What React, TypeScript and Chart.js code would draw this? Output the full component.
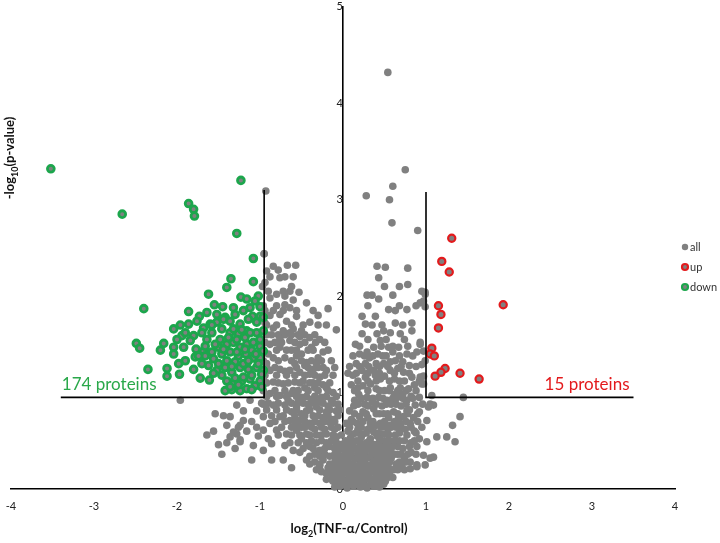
import React, { useEffect, useRef } from "react";
import { Chart, registerables } from "chart.js";

Chart.register(...registerables);

// ---------- data (log2 fold change, -log10 p) ----------
const seriesNames = ["all", "up", "down"];
const downLabel = "174 proteins";
const upLabel = "15 proteins";
const xAxisTitle = ["log", "2", "(TNF-α/Control)"];
const yAxisTitle = ["-log", "10", "(p-value)"];

const leftCut: number[][] = [[-0.95, 3.1], [-0.95, 0.95], [-3.4, 0.95]];
const rightCut: number[][] = [[1.0, 3.08], [1.0, 0.95], [3.5, 0.95]];

const upPts: number[][] = [
  [1.31, 2.6], [1.19, 2.36], [1.28, 2.25], [1.93, 1.91], [1.15, 1.9], [1.18, 1.81], [1.15, 1.67],
  [1.07, 1.46], [1.05, 1.4], [1.1, 1.38], [1.23, 1.25], [1.18, 1.21], [1.11, 1.17], [1.41, 1.2], [1.64, 1.14],
];

const downPts: number[][] = [
  [-3.52, 3.32], [-1.23, 3.2], [-2.66, 2.85], [-1.86, 2.96], [-1.8, 2.9], [-1.79, 2.83], [-1.28, 2.65],
  [-1.08, 2.39], [-1.35, 2.18], [-1.08, 2.15], [-1.4, 2.09], [-1.62, 2.02], [-1.23, 1.99], [-1.02, 2.0],
  [-2.4, 1.87], [-1.55, 1.91], [-1.45, 1.89], [-1.32, 1.88], [-1.12, 1.88], [-1.0, 1.89], [-1.86, 1.84],
  [-1.73, 1.79], [-1.64, 1.83], [-1.52, 1.81], [-1.42, 1.78], [-1.3, 1.81], [-1.2, 1.85], [-1.09, 1.79],
  [-1.0, 1.79], [-1.86, 1.71], [-2.04, 1.66], [-1.94, 1.59], [-1.8, 1.59], [-1.76, 1.74], [-1.68, 1.67],
  [-1.6, 1.71], [-1.52, 1.73], [-1.44, 1.76], [-1.36, 1.74], [-1.24, 1.71], [-1.14, 1.76], [-1.04, 1.73],
  [-0.96, 1.78], [-1.7, 1.62], [-1.58, 1.62], [-1.46, 1.66], [-1.36, 1.62], [-1.26, 1.61], [-1.16, 1.64],
  [-1.04, 1.62], [-0.96, 1.64], [-2.49, 1.51], [-2.45, 1.46], [-2.16, 1.51], [-2.04, 1.47], [-1.92, 1.47],
  [-1.77, 1.45], [-1.68, 1.43], [-1.58, 1.42], [-1.5, 1.47], [-1.4, 1.5], [-1.32, 1.52], [-1.24, 1.47],
  [-1.16, 1.5], [-1.08, 1.52], [-1.0, 1.48], [-0.96, 1.43], [-2.04, 1.4], [-1.9, 1.33], [-1.78, 1.37],
  [-1.66, 1.38], [-1.56, 1.35], [-1.46, 1.4], [-1.36, 1.42], [-1.26, 1.38], [-1.17, 1.4], [-1.08, 1.36],
  [-1.0, 1.36], [-2.35, 1.24], [-2.12, 1.25], [-2.12, 1.17], [-1.97, 1.19], [-1.72, 1.15], [-1.61, 1.13],
  [-1.52, 1.23], [-1.42, 1.26], [-1.34, 1.21], [-1.24, 1.26], [-1.14, 1.24], [-1.04, 1.26], [-0.96, 1.23],
  [-1.4, 1.12], [-1.32, 1.09], [-1.22, 1.12], [-1.12, 1.14], [-1.0, 1.12], [-1.42, 1.02], [-1.34, 1.03],
  [-1.24, 1.02], [-1.16, 1.04], [-1.06, 1.07], [-0.98, 1.06], [-1.48, 1.55], [-1.38, 1.57], [-1.28, 1.55],
  [-1.18, 1.57], [-1.1, 1.44], [-1.2, 1.3], [-1.3, 1.32], [-1.4, 1.33], [-1.5, 1.3], [-1.62, 1.28],
  [-1.1, 1.18], [-1.2, 1.16], [-1.3, 1.15], [-1.46, 1.18], [-1.56, 1.2], [-1.05, 1.4], [-1.14, 1.33],
  [-1.34, 1.27], [-1.44, 1.45], [-1.54, 1.5], [-1.64, 1.55], [-1.84, 1.54], [-1.98, 1.3], [-1.7, 1.3],
  [-1.8, 1.24], [-1.02, 1.3], [-0.98, 1.19], [-1.26, 1.08], [-1.36, 1.06], [-1.1, 1.03], [-1.18, 1.45],
  [-1.28, 1.42], [-1.0, 1.55], [-1.12, 1.62], [-1.22, 1.65], [-1.32, 1.66], [-1.9, 1.62], [-2.0, 1.55],
  [-1.66, 1.48], [-1.74, 1.38], [-2.2, 1.44], [-1.96, 1.7], [-1.58, 1.7], [-1.06, 1.95], [-1.16, 1.97],
];

const allPts: number[][] = [
  // outliers
  [0.54, 4.32], [0.75, 3.31], [0.6, 3.14], [0.28, 3.04], [0.56, 3.0], [0.59, 2.76], [0.9, 2.68],
  [-0.93, 3.09], [-0.95, 2.44],
  // right arm
  [0.41, 2.31], [0.51, 2.3], [0.78, 2.29], [0.43, 2.19], [0.78, 2.12], [0.29, 2.01], [0.35, 2.01],
  [0.43, 1.97], [0.6, 2.01], [0.95, 2.05], [0.93, 1.93], [0.99, 2.02], [0.55, 1.86], [0.63, 1.85],
  [0.77, 1.86], [0.23, 1.79], [0.39, 1.79], [0.27, 1.71], [0.63, 1.72], [0.83, 1.72], [0.23, 1.61],
  [0.41, 1.61], [0.49, 1.64], [0.57, 1.62], [0.69, 1.61], [0.83, 1.64], [0.93, 1.52], [0.45, 1.54],
  [0.37, 1.47], [0.55, 1.47], [0.67, 1.47], [0.29, 1.42], [0.77, 1.4], [0.89, 1.42], [0.99, 1.33],
  [0.63, 1.33], [0.49, 1.3], [0.37, 1.23], [0.23, 1.23], [0.57, 1.23], [0.73, 1.21], [0.83, 1.16],
  [0.93, 1.16], [0.97, 1.09], [0.45, 1.14], [0.33, 1.09], [0.18, 1.05], [0.57, 1.05], [0.69, 1.05],
  [0.79, 1.04], [1.07, 0.97], [0.14, 0.92], [0.29, 0.95], [0.43, 0.95], [0.53, 0.92], [0.65, 0.95],
  [0.77, 0.92], [0.87, 0.87], [1.03, 0.85], [0.08, 0.81], [0.24, 0.8], [0.37, 0.83], [0.49, 0.78],
  [0.61, 0.8], [0.73, 0.75], [1.01, 0.71], [0.81, 0.68], [0.69, 0.68], [0.57, 0.66], [0.45, 0.68],
  [0.33, 0.68], [0.17, 0.68], [0.04, 0.68], [0.12, 0.57], [0.24, 0.57], [0.37, 0.59], [0.49, 0.57],
  [0.63, 0.56], [0.77, 0.56], [1.01, 0.49], [0.89, 0.44], [1.13, 0.54], [1.05, 0.32], [0.97, 0.35],
  [0.81, 0.28], [0.71, 0.25], [0.61, 0.2], [0.89, 0.23],
  [0.15, 1.5], [0.2, 1.4], [0.32, 1.36], [0.42, 1.4], [0.52, 1.38], [0.6, 1.42], [0.72, 1.32],
  [0.8, 1.28], [0.16, 1.3], [0.27, 1.3], [0.4, 1.3], [0.57, 1.32], [0.66, 1.25], [0.12, 1.18],
  [0.27, 1.16], [0.39, 1.18], [0.5, 1.17], [0.62, 1.14], [0.74, 1.12], [0.86, 1.08], [0.1, 1.08],
  [0.24, 1.07], [0.4, 1.04], [0.5, 1.02], [0.62, 0.98], [0.72, 0.98], [0.82, 0.96], [0.92, 0.95],
  [0.19, 0.98], [0.35, 0.9], [0.47, 0.86], [0.58, 0.88], [0.7, 0.86], [0.8, 0.82], [0.92, 0.8],
  [0.13, 0.86], [0.3, 0.86], [0.44, 0.78], [0.55, 0.74], [0.67, 0.74], [0.85, 0.74], [0.95, 0.64],
  [0.2, 0.75], [0.3, 0.74], [0.1, 0.72], [0.4, 0.66], [0.52, 0.64], [0.64, 0.64], [0.75, 0.62],
  [0.86, 0.6], [0.18, 0.62], [0.06, 0.6], [0.3, 0.62], [0.44, 0.52], [0.56, 0.5], [0.68, 0.5],
  [0.82, 0.48], [0.92, 0.52], [0.03, 0.5], [0.16, 0.5], [0.28, 0.48], [0.38, 0.46], [0.6, 0.44],
  [0.72, 0.42], [0.82, 0.38], [0.66, 0.36], [0.58, 0.32], [0.74, 0.32], [0.5, 0.4], [0.52, 0.28],
  [0.64, 0.26], [0.56, 0.16], [0.5, 0.12], [0.46, 0.06],
  [0.3, 1.55], [0.52, 1.55], [0.74, 1.55], [0.2, 1.48], [0.46, 1.48], [0.6, 1.48], [0.78, 1.48],
  [0.12, 1.38], [0.26, 1.38], [0.36, 1.38], [0.48, 1.38], [0.68, 1.38], [0.84, 1.38],
  [0.08, 1.27], [0.2, 1.27], [0.31, 1.27], [0.44, 1.27], [0.54, 1.27], [0.7, 1.27], [0.88, 1.27],
  [0.06, 1.2], [0.16, 1.2], [0.3, 1.2], [0.44, 1.2], [0.62, 1.2], [0.8, 1.2],
  [0.18, 1.12], [0.3, 1.12], [0.4, 1.12], [0.56, 1.12], [0.68, 1.12], [0.92, 1.12],
  [0.14, 1.02], [0.3, 1.02], [0.44, 1.02], [0.56, 1.02], [0.66, 1.02], [0.76, 1.02], [0.88, 1.02],
  [0.22, 0.94], [0.36, 0.94], [0.48, 0.94], [0.6, 0.94], [0.72, 0.94], [0.84, 0.94],
  [0.18, 0.88], [0.26, 0.88], [0.4, 0.88], [0.52, 0.88], [0.64, 0.88], [0.76, 0.88], [0.96, 0.88],
  [0.14, 0.78], [0.28, 0.78], [0.4, 0.78], [0.54, 0.78], [0.66, 0.78], [0.78, 0.78], [0.9, 0.78],
  [0.12, 0.7], [0.24, 0.7], [0.36, 0.7], [0.5, 0.7], [0.62, 0.7], [0.76, 0.7], [0.9, 0.7],
  [0.08, 0.64], [0.22, 0.64], [0.34, 0.64], [0.46, 0.64], [0.58, 0.64], [0.7, 0.64], [0.82, 0.64],
  [0.16, 0.58], [0.28, 0.58], [0.42, 0.58], [0.54, 0.58], [0.68, 0.58], [0.88, 0.58],
  [0.08, 0.5], [0.2, 0.5], [0.32, 0.5], [0.5, 0.5], [0.62, 0.5], [0.74, 0.5], [0.86, 0.5],
  [0.1, 0.44], [0.24, 0.44], [0.3, 0.44], [0.44, 0.44], [0.54, 0.44], [0.66, 0.44], [0.8, 0.44],
  [0.4, 0.36], [0.52, 0.36], [0.62, 0.36], [0.7, 0.36], [0.78, 0.36], [0.88, 0.36],
  [0.44, 0.28], [0.56, 0.28], [0.68, 0.28], [0.76, 0.28], [0.5, 0.2], [0.58, 0.2], [0.66, 0.2],
  [0.74, 0.2], [0.54, 0.12], [0.6, 0.12],
  [0.35, 1.7], [0.47, 1.7], [0.72, 1.7], [0.3, 1.9], [0.68, 1.9], [0.88, 1.9], [0.5, 2.1], [0.68, 2.1],
  // right scattered
  [1.32, 0.66], [1.41, 0.75], [1.25, 0.54], [1.35, 0.49], [1.09, 0.33], [0.99, 0.25], [0.89, 0.25],
  [0.81, 0.21], [1.45, 0.95], [1.05, 0.88], [0.77, 0.81], [0.99, 2.04], [0.97, 1.95], [0.99, 1.89],
  [0.93, 1.5], [0.97, 1.43], [0.95, 1.29], [0.97, 1.17], [0.95, 1.09], [1.09, 0.87],
  // left arm
  [-0.95, 2.44], [-0.84, 2.31], [-0.78, 2.27], [-0.67, 2.32], [-0.57, 2.32], [-0.76, 2.19], [-0.62, 2.1],
  [-0.53, 2.04], [-0.44, 1.93], [-0.18, 1.87], [-0.3, 1.8], [-0.08, 1.65], [-0.94, 2.14], [-0.88, 1.98],
  [-0.8, 2.02], [-0.7, 1.91], [-0.64, 1.88], [-0.76, 1.81], [-0.68, 1.74], [-0.56, 1.79], [-0.5, 1.64],
  [-0.4, 1.73], [-0.6, 1.66], [-0.72, 1.64], [-0.84, 1.67], [-0.92, 1.6], [-0.4, 1.57], [-0.28, 1.55],
  [-0.64, 1.54], [-0.52, 1.5], [-0.38, 1.47], [-0.24, 1.42], [-0.76, 1.47], [-0.88, 1.5], [-0.84, 1.36],
  [-0.7, 1.36], [-0.56, 1.38], [-0.44, 1.31], [-0.32, 1.3], [-0.2, 1.23], [-0.88, 1.23], [-0.76, 1.24],
  [-0.64, 1.23], [-0.52, 1.21], [-0.4, 1.19], [-0.28, 1.16], [-0.84, 1.11], [-0.72, 1.09], [-0.58, 1.11],
  [-0.46, 1.05], [-0.34, 1.05], [-0.2, 1.05], [-0.88, 0.99], [-0.76, 0.97], [-0.62, 0.99], [-0.5, 0.95],
  [-0.38, 0.93], [-0.26, 0.95], [-0.14, 0.92], [-0.84, 0.87], [-0.7, 0.87], [-0.56, 0.85], [-0.44, 0.81],
  [-0.32, 0.85], [-0.2, 0.8], [-0.08, 0.81], [-0.96, 0.75], [-0.88, 0.68], [-0.76, 0.75], [-0.64, 0.71],
  [-0.52, 0.71], [-0.4, 0.68], [-0.28, 0.68], [-0.16, 0.69], [-1.04, 0.64], [-0.8, 0.61], [-0.68, 0.57],
  [-0.56, 0.61], [-0.44, 0.57], [-0.32, 0.56], [-0.2, 0.57], [-0.08, 0.54], [-0.96, 0.61], [-1.2, 0.71],
  [-1.26, 0.64], [-1.32, 0.59], [-1.24, 0.51], [-0.86, 0.47], [-0.7, 0.45], [-0.6, 0.4], [-0.52, 0.38],
  [-0.4, 0.44], [-0.28, 0.4], [-0.16, 0.44], [-0.44, 0.3], [-0.34, 0.28], [-0.24, 0.3], [-0.16, 0.26],
  [-0.32, 0.2], [-0.2, 0.16], [-0.12, 0.13], [-0.04, 0.2], [-0.08, 0.06], [0.0, 0.08], [-0.96, 0.88],
  [-1.04, 0.81], [-1.12, 0.92], [-1.2, 0.81], [-1.28, 0.87], [-1.36, 0.75],
  [-1.54, 0.78], [-1.44, 0.76], [-1.36, 0.54], [-1.28, 0.57], [-1.24, 0.49], [-1.24, 0.66], [-1.96, 0.92],
  [-0.6, 1.02], [-0.48, 1.12], [-0.36, 1.1], [-0.24, 1.08], [-0.12, 1.0], [-0.66, 0.92], [-0.54, 0.9],
  [-0.42, 0.88], [-0.3, 0.9], [-0.18, 0.86], [-0.06, 0.88], [-0.62, 0.8], [-0.5, 0.78], [-0.36, 0.76],
  [-0.24, 0.74], [-0.12, 0.72], [-0.56, 0.66], [-0.46, 0.64], [-0.34, 0.62], [-0.22, 0.62],
  [-0.1, 0.62], [-0.5, 0.52], [-0.38, 0.5], [-0.26, 0.5], [-0.14, 0.5], [-0.04, 0.46],
  [-0.34, 0.36], [-0.22, 0.36], [-0.1, 0.36], [-0.02, 0.34], [-0.28, 0.24], [-0.18, 0.22], [-0.06, 0.24],
  [-0.14, 0.1], [-0.04, 0.14], [-0.46, 1.28], [-0.58, 1.3], [-0.7, 1.22], [-0.36, 1.24], [-0.5, 1.4],
  [-0.62, 1.44], [-0.3, 1.36], [-0.76, 1.56], [-0.64, 1.62], [-0.52, 1.58], [-0.88, 1.8], [-0.8, 1.9],
  [-0.7, 2.0], [-0.6, 1.96], [-0.9, 1.4], [-0.92, 1.3], [-0.96, 1.16], [-0.94, 1.72], [-0.96, 1.9],
  [-0.92, 2.26], [-0.97, 2.1],
  [-0.86, 1.6], [-0.78, 1.6], [-0.7, 1.6], [-0.62, 1.6], [-0.54, 1.6], [-0.46, 1.6], [-0.34, 1.6],
  [-0.94, 1.52], [-0.82, 1.52], [-0.74, 1.52], [-0.58, 1.52], [-0.46, 1.52], [-0.33, 1.52], [-0.22, 1.52],
  [-0.96, 1.44], [-0.8, 1.44], [-0.68, 1.44], [-0.56, 1.44], [-0.42, 1.44], [-0.36, 1.44], [-0.18, 1.44],
  [-0.96, 1.33], [-0.78, 1.33], [-0.62, 1.33], [-0.5, 1.33], [-0.38, 1.33], [-0.26, 1.33], [-0.14, 1.33],
  [-0.92, 1.26], [-0.82, 1.26], [-0.56, 1.26], [-0.42, 1.26], [-0.3, 1.26], [-0.24, 1.26], [-0.1, 1.26],
  [-0.94, 1.18], [-0.8, 1.18], [-0.68, 1.18], [-0.58, 1.18], [-0.46, 1.18], [-0.34, 1.18], [-0.22, 1.18], [-0.12, 1.18],
  [-0.92, 1.1], [-0.78, 1.1], [-0.66, 1.1], [-0.52, 1.1], [-0.4, 1.1], [-0.3, 1.1], [-0.16, 1.1],
  [-0.96, 1.02], [-0.82, 1.02], [-0.7, 1.02], [-0.54, 1.02], [-0.42, 1.02], [-0.3, 1.02], [-0.18, 1.02],
  [-0.92, 0.96], [-0.8, 0.96], [-0.68, 0.96], [-0.56, 0.96], [-0.44, 0.96], [-0.34, 0.96], [-0.2, 0.96], [-0.08, 0.96],
  [-0.98, 0.89], [-0.9, 0.89], [-0.78, 0.89], [-0.62, 0.89], [-0.48, 0.89], [-0.38, 0.89], [-0.24, 0.89], [-0.12, 0.89],
  [-0.92, 0.82], [-0.8, 0.82], [-0.68, 0.82], [-0.56, 0.82], [-0.4, 0.82], [-0.28, 0.82], [-0.16, 0.82], [-0.04, 0.82],
  [-0.86, 0.76], [-0.72, 0.76], [-0.58, 0.76], [-0.46, 0.76], [-0.3, 0.76], [-0.18, 0.76], [-0.06, 0.76],
  [-0.82, 0.7], [-0.7, 0.7], [-0.58, 0.7], [-0.46, 0.7], [-0.34, 0.7], [-0.22, 0.7], [-0.1, 0.7],
  [-0.74, 0.64], [-0.62, 0.64], [-0.5, 0.64], [-0.38, 0.64], [-0.26, 0.64], [-0.14, 0.64], [-0.06, 0.64],
  [-0.78, 0.56], [-0.62, 0.56], [-0.52, 0.56], [-0.4, 0.56], [-0.26, 0.56], [-0.12, 0.56], [-0.02, 0.56],
  [-0.64, 0.48], [-0.54, 0.48], [-0.44, 0.48], [-0.32, 0.48], [-0.2, 0.48], [-0.08, 0.48],
  [-0.48, 0.42], [-0.36, 0.42], [-0.22, 0.42], [-0.1, 0.42], [-0.02, 0.42],
  [-0.4, 0.34], [-0.28, 0.34], [-0.16, 0.34], [-0.06, 0.34], [-0.4, 0.26], [-0.28, 0.26], [-0.1, 0.26],
  [-0.02, 0.26], [-0.26, 0.18], [-0.14, 0.18], [-0.08, 0.18], [-0.2, 0.1], [-0.08, 0.1],
  [-0.92, 1.7], [-0.8, 1.7], [-0.62, 1.7], [-0.48, 1.7], [-0.3, 1.7], [-0.2, 1.7], [-0.94, 1.85],
  [-0.84, 1.85], [-0.72, 1.85], [-0.56, 1.85], [-0.36, 1.85], [-0.9, 2.05], [-0.72, 2.05], [-0.64, 2.05],
  [-0.88, 2.2], [-0.7, 2.2], [-0.6, 2.2],
  [-1.1, 0.7], [-1.16, 0.6], [-1.02, 0.55], [-0.9, 0.52], [-1.08, 0.45], [-0.96, 0.4], [-1.4, 0.66],
  [-1.5, 0.46], [-1.64, 0.56], [-1.46, 0.36], [-1.1, 0.3], [-0.86, 0.3], [-0.72, 0.3], [-0.62, 0.22],
  [-1.56, 0.6], [-1.4, 0.48], [-1.3, 0.42],
  // dense base
  [-0.1, 0.02], [-0.03, 0.03], [0.05, 0.01], [0.13, 0.03], [0.21, 0.02], [0.29, 0.01], [0.37, 0.03],
  [0.44, 0.02], [-0.12, 0.08], [-0.05, 0.09], [0.04, 0.07], [0.11, 0.09], [0.2, 0.08], [0.27, 0.1],
  [0.35, 0.07], [0.43, 0.09], [0.51, 0.08], [-0.13, 0.16], [-0.06, 0.15], [0.02, 0.17], [0.09, 0.14],
  [0.18, 0.16], [0.25, 0.15], [0.33, 0.17], [0.41, 0.14], [0.48, 0.18], [-0.15, 0.23], [-0.08, 0.22],
  [0.01, 0.24], [0.08, 0.21], [0.16, 0.23], [0.24, 0.22], [0.31, 0.24], [0.39, 0.21], [0.47, 0.23],
  [0.55, 0.22], [-0.09, 0.3], [-0.01, 0.31], [0.06, 0.29], [0.14, 0.31], [0.22, 0.3], [0.29, 0.32],
  [0.37, 0.29], [0.45, 0.31], [0.53, 0.3], [-0.06, 0.38], [0.03, 0.39], [0.1, 0.37], [0.18, 0.39],
  [0.26, 0.38], [0.34, 0.4], [0.42, 0.37], [0.49, 0.39], [0.58, 0.38], [-0.02, 0.46], [0.05, 0.45],
  [0.12, 0.47], [0.2, 0.44], [0.27, 0.46], [0.35, 0.45], [0.43, 0.47], [0.51, 0.45],
  [0.09, 0.53], [0.22, 0.54], [0.33, 0.52], [0.41, 0.55], [0.55, 0.56],
  [-0.07, 0.05], [0.01, 0.05], [0.09, 0.05], [0.17, 0.05], [0.25, 0.05], [0.33, 0.05], [0.41, 0.05], [0.49, 0.05],
  [-0.09, 0.12], [-0.01, 0.12], [0.07, 0.12], [0.15, 0.12], [0.23, 0.12], [0.31, 0.12], [0.39, 0.12], [0.47, 0.12],
  [-0.11, 0.19], [-0.02, 0.19], [0.06, 0.19], [0.13, 0.19], [0.21, 0.19], [0.29, 0.19], [0.37, 0.19], [0.44, 0.19], [0.52, 0.19],
  [-0.12, 0.26], [-0.04, 0.26], [0.04, 0.26], [0.12, 0.26], [0.2, 0.26], [0.27, 0.26], [0.35, 0.26], [0.43, 0.26], [0.51, 0.26],
  [-0.07, 0.34], [0.02, 0.34], [0.1, 0.34], [0.18, 0.34], [0.25, 0.34], [0.33, 0.34], [0.41, 0.34], [0.49, 0.34], [0.56, 0.34],
  [-0.03, 0.42], [0.07, 0.42], [0.15, 0.42], [0.23, 0.42], [0.31, 0.42], [0.39, 0.42], [0.47, 0.42], [0.55, 0.42],
];

const GRAY = "#808080";
const GREEN = "#1ca64c";
const RED = "#e31a1c";
const FONT = "Lato, 'Open Sans', sans-serif";

const toXY = (arr: number[][]) => arr.map(([x, y]) => ({ x, y }));

function drawParts(ctx: CanvasRenderingContext2D, parts: string[], cx: number, cy: number, size: number) {
  const big = `bold ${size}px ${FONT}`;
  const small = `bold ${Math.round(size * 0.7)}px ${FONT}`;
  let total = 0;
  parts.forEach((p, i) => {
    ctx.font = i === 1 ? small : big;
    total += ctx.measureText(p).width;
  });
  let x = cx - total / 2;
  ctx.textAlign = "left";
  ctx.textBaseline = "alphabetic";
  parts.forEach((p, i) => {
    ctx.font = i === 1 ? small : big;
    ctx.fillText(p, x, cy + (i === 1 ? size * 0.3 : 0));
    x += ctx.measureText(p).width;
  });
}

const overlay = {
  id: "overlay",
  afterDraw(chart: any) {
    const { ctx, scales } = chart;
    const xs = scales.x;
    const ys = scales.y;
    ctx.save();
    // region labels
    ctx.font = `17px ${FONT}`;
    ctx.textBaseline = "alphabetic";
    ctx.fillStyle = "#2aa84a";
    ctx.textAlign = "left";
    ctx.fillText(downLabel, xs.getPixelForValue(leftCut[2][0]) + 1, ys.getPixelForValue(leftCut[2][1]) - 7);
    ctx.fillStyle = RED;
    ctx.textAlign = "right";
    ctx.fillText(upLabel, xs.getPixelForValue(rightCut[2][0]) - 4, ys.getPixelForValue(rightCut[2][1]) - 7);

    // legend
    const colors = [GRAY, RED, GREEN];
    seriesNames.forEach((n, i) => {
      const ly = 247 + i * 20;
      ctx.beginPath();
      ctx.arc(685, ly, i === 0 ? 3.2 : 3, 0, Math.PI * 2);
      ctx.fillStyle = GRAY;
      ctx.fill();
      if (i > 0) {
        ctx.lineWidth = 2.2;
        ctx.strokeStyle = colors[i];
        ctx.stroke();
      }
      ctx.fillStyle = "#333";
      ctx.font = `11px ${FONT}`;
      ctx.textAlign = "left";
      ctx.textBaseline = "middle";
      ctx.fillText(n, 690, ly);
    });

    // axis titles
    ctx.fillStyle = "#111";
    drawParts(ctx, xAxisTitle, 349, 533, 13);
    ctx.translate(14, 158);
    ctx.rotate(-Math.PI / 2);
    drawParts(ctx, yAxisTitle, 0, 0, 13);
    ctx.restore();
  },
};

export default function App() {
  const ref = useRef<HTMLCanvasElement>(null);
  useEffect(() => {
    if (!ref.current) return;
    const tickFont = { family: FONT, size: 11 };
    const chart = new Chart(ref.current, {
      type: "scatter",
      data: {
        datasets: [
          { data: toXY(leftCut), showLine: true, borderColor: "#000", borderWidth: 1.6, pointRadius: 0, fill: false, tension: 0 } as any,
          { data: toXY(rightCut), showLine: true, borderColor: "#000", borderWidth: 1.6, pointRadius: 0, fill: false, tension: 0 } as any,
          { label: "up", data: toXY(upPts), pointRadius: 3.6, pointBorderWidth: 2.2, pointBorderColor: RED, pointBackgroundColor: GRAY },
          { label: "down", data: toXY(downPts), pointRadius: 3.4, pointBorderWidth: 2.8, pointBorderColor: GREEN, pointBackgroundColor: GRAY },
          { label: "all", data: toXY(allPts), pointRadius: 3.8, pointBorderWidth: 0, pointBorderColor: GRAY, pointBackgroundColor: GRAY },
        ],
      },
      options: {
        animation: false,
        responsive: false,
        events: [],
        clip: false as any,
        layout: { padding: { left: 11, right: 45, top: 4, bottom: 54 } },
        plugins: { legend: { display: false }, tooltip: { enabled: false }, title: { display: false } },
        scales: {
          x: {
            type: "linear",
            min: -4,
            max: 4,
            position: { y: 0 } as any,
            grid: { display: false, drawTicks: true, tickLength: 8 },
            border: { display: true, color: "#000", width: 1.6 },
            ticks: { stepSize: 1, font: tickFont, color: "#222", padding: 3, maxRotation: 0, autoSkip: false },
            afterFit: (s: any) => { s.height = 0; s.paddingLeft = 0; s.paddingRight = 0; },
          },
          y: {
            type: "linear",
            min: 0,
            max: 5,
            position: { x: 0 } as any,
            grid: { display: false, drawTicks: true, tickLength: 8 },
            border: { display: true, color: "#000", width: 1.6 },
            ticks: { stepSize: 1, font: tickFont, color: "#222", padding: 3 },
            afterFit: (s: any) => { s.width = 0; s.paddingTop = 0; s.paddingBottom = 0; },
          },
        },
      },
      plugins: [overlay],
    });
    return () => chart.destroy();
  }, []);
  return (
    <div style={{ position: "absolute", left: 0, top: 0, width: 720, height: 543, background: "#fff" }}>
      <canvas ref={ref} width={720} height={543} />
    </div>
  );
}
